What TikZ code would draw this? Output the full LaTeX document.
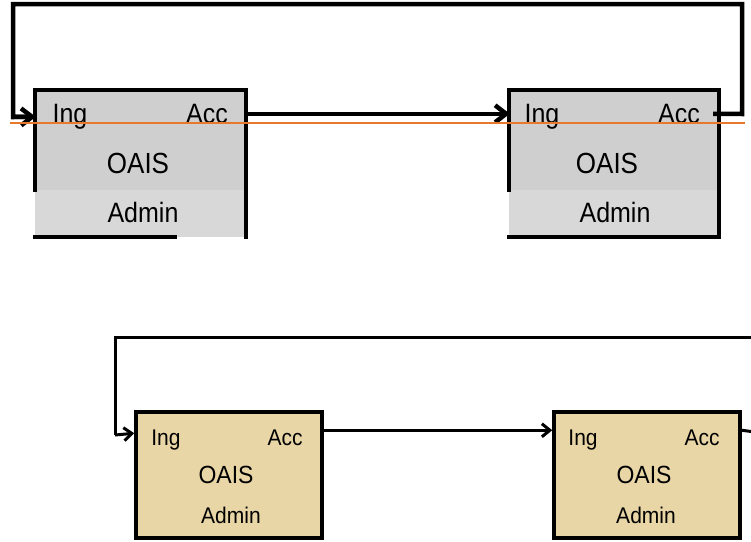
\documentclass[tikz,border=0pt]{standalone}
\usepackage{fontspec}
\setmainfont{Liberation Sans}
\usetikzlibrary{arrows.meta,calc}
\definecolor{grayA}{HTML}{CFCFCF}
\definecolor{grayB}{HTML}{D8D8D8}
\definecolor{tan}{HTML}{E9D6A6}
\definecolor{orangeline}{HTML}{E8782A}
\tikzset{
  graybox/.style={rectangle, fill=grayA, draw=none, inner sep=0pt},
  tanbox/.style={rectangle, fill=tan, draw=black, line width=3.5pt, inner sep=0pt, minimum width=186pt, minimum height=126pt},
  bigtxt/.style={font=\fontsize{25pt}{25pt}\selectfont, anchor=base, inner sep=0pt, yscale=1.12},
  bigtitle/.style={font=\fontsize{26pt}{26pt}\selectfont, anchor=base, inner sep=0pt, yscale=1.12},
  smalltxt/.style={font=\fontsize{21pt}{21pt}\selectfont, anchor=base, inner sep=0pt, yscale=1.08},
  smalltitle/.style={font=\fontsize{23pt}{23pt}\selectfont, anchor=base, inner sep=0pt, yscale=1.08},
  heavy/.style={line width=4.5pt, line join=miter},
  heavyarrow/.style={heavy, -{Straight Barb[length=11pt,width=17pt]}},
  light/.style={line width=3pt},
  lightarrow/.style={light, -{Straight Barb[length=8pt,width=13pt]}},
  border/.style={line width=3.5pt, line cap=rect},
}
\begin{document}
\begin{tikzpicture}[x=1pt,y=-1pt]
\useasboundingbox (0,0) rectangle (751,541);
% ---------- top row (gray) ----------
\node[graybox, minimum width=211pt, minimum height=147pt] (b1) at (140.5,163.5) {};
\node[graybox, minimum width=210pt, minimum height=147pt] (b2) at (614,163.5) {};
\fill[grayB] ($(b1.south west)+(0,-47)$) rectangle (b1.south east);
\fill[grayB] ($(b2.south west)+(0,-47)$) rectangle (b2.south east);
% borders of box 1
\draw[border] ($(b1.south west)+(0,-47)$) -- (b1.north west) -- (b1.north east) -- (b1.south east);
\draw[border] (b1.south west) -- ($(b1.south west)+(140,0)$);
% borders of box 2
\draw[border] ($(b2.south west)+(0,-47)$) -- (b2.north west) -- (b2.north east) -- (b2.south east) -- (b2.south west);
% texts
\node[bigtxt] (i1) at (70,123) {Ing};
\node[bigtxt] (a1) at (207,123) {Acc};
\node[bigtitle] (o1) at (138,173) {OAIS};
\node[bigtxt] (d1) at (143,222) {Admin};
\node[bigtxt] (i2) at (542,123) {Ing};
\node[bigtxt] (a2) at (679,123) {Acc};
\node[bigtitle] (o2) at (607,173) {OAIS};
\node[bigtxt] (d2) at (615,222) {Admin};
% connectors
\coordinate (s2) at ($(b2.north east)+(-6,24)$);
\coordinate (c1) at (742,114);
\coordinate (c2) at (742,4);
\coordinate (c3) at (13,4);
\coordinate (c4) at (13,117);
\draw[heavy] (s2) -- (c1) -- (c2) -- (c3) -- (c4) -- ($(b1.north west)+(-6,27)$);
\draw[heavyarrow] (c4) -- ($(b1.north west)+(1,27)$);
\draw[heavyarrow] ($(b1.north east)+(0,24)$) -- ($(b2.north west)+(1,24)$);
% orange line
\coordinate (o-l) at (10,123);
\coordinate (o-r) at (745,123);
\draw[orangeline, line width=2pt] (o-l) -- (o-r);
% ---------- bottom row (tan) ----------
\node[tanbox] (b3) at (229,475) {};
\node[tanbox] (b4) at (647,475) {};
\node[smalltxt] (i3) at (166,445) {Ing};
\node[smalltxt] (a3) at (285,445) {Acc};
\node[smalltitle] (o3) at (226,483) {OAIS};
\node[smalltxt] (d3) at (231,523) {Admin};
\node[smalltxt] (i4) at (583,445) {Ing};
\node[smalltxt] (a4) at (702,445) {Acc};
\node[smalltitle] (o4) at (644,483) {OAIS};
\node[smalltxt] (d4) at (646,523) {Admin};
\coordinate (e1) at (755,432);
\coordinate (e2) at (755,337);
\coordinate (e3) at (115,337);
\coordinate (e4) at (115,435);
\draw[light] ($(b4.north east)+(0,20)$) -- (e1);
\draw[light] (e2) -- (e3) -- (e4);
\draw[lightarrow] (e4) -- ($(b3.north west)+(0,23)$);
\draw[lightarrow] ($(b3.north east)+(0,20)$) -- ($(b4.north west)+(0,20)$);
\end{tikzpicture}
\end{document}
